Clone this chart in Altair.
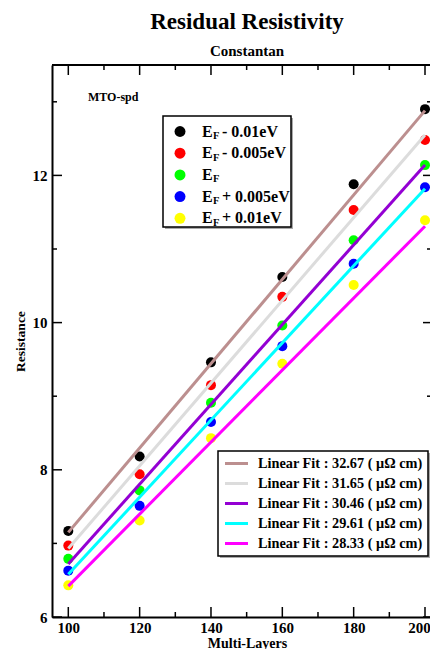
import altair as alt
import pandas as pd

# ---------------- data ----------------
layers_x = [100, 120, 140, 160, 180, 200]
series_names = ["EF - 0.01eV", "EF - 0.005eV", "EF", "EF + 0.005eV", "EF + 0.01eV"]
res_m010 = [7.17, 8.18, 9.46, 10.62, 11.88, 12.90]
res_m005 = [6.97, 7.94, 9.15, 10.35, 11.53, 12.48]
res_0 = [6.79, 7.72, 8.91, 9.96, 11.12, 12.14]
res_p005 = [6.63, 7.51, 8.65, 9.68, 10.80, 11.84]
res_p010 = [6.43, 7.31, 8.43, 9.44, 10.51, 11.39]
point_colors = ["#000000", "#ff0000", "#00ff00", "#0000ff", "#ffff00"]
legend_suffix = ["- 0.01eV", "- 0.005eV", "", "+ 0.005eV", "+ 0.01eV"]

fit_slopes = [32.67, 31.65, 30.46, 29.61, 28.33]
fit_x = [100, 200]
fit_start = [7.15, 6.93, 6.72, 6.58, 6.42]
fit_end = [12.88, 12.55, 12.14, 11.82, 11.31]
line_colors = ["#bc8f8f", "#dcdcdc", "#9400d3", "#00ffff", "#ff00ff"]

x_major = [100, 120, 140, 160, 180, 200]
x_minor = [110, 130, 150, 170, 190]
y_major = [6, 8, 10, 12]
y_minor = [7, 9, 11, 13]

# ---------------- layout ----------------
W, H = 378, 552          # visible plot area (frame continues past the page edge)
XMIN = 95.43
XMAX = XMIN + W * (100 / 356.7)
YMIN, YMAX = 6.0, 13.5
FONT = "Liberation Serif"


def dx(px):
    return XMIN + px * (XMAX - XMIN) / W


def dy(py):
    return YMAX - py * (YMAX - YMIN) / H


xscale = alt.Scale(domain=[XMIN, XMAX], nice=False, zero=False)
yscale = alt.Scale(domain=[YMIN, YMAX], nice=False, zero=False)
xaxis = alt.Axis(values=x_major, title="Multi-Layers", grid=False, ticks=False,
                 domain=True, domainColor="black", domainWidth=2,
                 labelFont=FONT, labelFontSize=15, labelFontWeight="bold", labelColor="black",
                 labelPadding=3, labelFlush=False,
                 labelOffset={"condition": {"test": "datum.value == 200", "value": -6}, "value": 0},
                 titleFont=FONT, titleFontSize=14, titleFontWeight="bold", titleColor="black",
                 titleX=195, titleAlign="center", titleY=33, titleBaseline="bottom")
yaxis = alt.Axis(values=y_major, title="Resistance", grid=False, ticks=False,
                 domain=True, domainColor="black", domainWidth=2,
                 labelFont=FONT, labelFontSize=15, labelFontWeight="bold", labelColor="black",
                 labelPadding=5, labelFlush=False,
                 titleFont=FONT, titleFontSize=13.5, titleFontWeight="bold", titleColor="black",
                 titleX=-32, titleY=H / 2, titleAngle=270, titleBaseline="middle", titleAlign="center")


def X(f="x"):
    return alt.X(f"{f}:Q", scale=xscale, axis=xaxis)


def Y(f="y"):
    return alt.Y(f"{f}:Q", scale=yscale, axis=yaxis)


# ---------------- tables ----------------
all_res = [res_m010, res_m005, res_0, res_p005, res_p010]
pts_df = pd.DataFrame([
    {"x": xv, "y": yv, "s": s, "col": c}
    for s, c, vals in zip(series_names, point_colors, all_res)
    for xv, yv in zip(layers_x, vals)
])

fit_labels = [f"Linear Fit : {v:.2f} ( \u03bc\u03a9 cm)" for v in fit_slopes]
fit_df = pd.DataFrame([
    {"x": xv, "y": yv, "fit": lab, "col": c}
    for lab, c, a, b in zip(fit_labels, line_colors, fit_start, fit_end)
    for xv, yv in zip(fit_x, [a, b])
])

# legend 1 (points) layout
L1_ROW0, L1_STEP = 66.5, 21.7
leg1 = pd.DataFrame({"col": point_colors, "rest": legend_suffix})
leg1["y"] = [dy(L1_ROW0 + L1_STEP * i) for i in range(len(leg1))]
leg1["ysub"] = [dy(L1_ROW0 + L1_STEP * i + 4.5) for i in range(len(leg1))]
leg1["xs"] = dx(128)
leg1["xe"] = dx(150)
leg1["xf"] = dx(161)
leg1["xr"] = dx(170)
leg1["E"] = "E"
leg1["F"] = "F"

# legend 2 (lines) layout
L2_ROW0, L2_STEP = 398.5, 20.0
leg2 = pd.DataFrame({"col": line_colors, "lab": fit_labels})
leg2["y"] = [dy(L2_ROW0 + L2_STEP * i) for i in range(len(leg2))]
leg2["x"] = dx(173)
leg2["x2"] = dx(196)
leg2["xt"] = dx(206)

one = pd.DataFrame({"a": [0]})

# ---------------- layers ----------------
points = alt.Chart(pts_df).mark_circle(size=100, opacity=1).encode(
    x=X(), y=Y(), color=alt.Color("col:N", scale=None))

lines = alt.Chart(fit_df).mark_line(strokeWidth=3).encode(
    x=X(), y=Y(), color=alt.Color("col:N", scale=None), detail="fit:N")


def xticks(vals, length, top):
    d = pd.DataFrame({"x": vals})
    if top:
        return alt.Chart(d).mark_rule(color="black", strokeWidth=1.5).encode(
            x=X(), y=alt.value(0), y2=alt.value(length))
    return alt.Chart(d).mark_rule(color="black", strokeWidth=1.5).encode(
        x=X(), y=alt.value(H), y2=alt.value(H - length))


def yticks(vals, length, right):
    d = pd.DataFrame({"y": vals})
    if right:
        return alt.Chart(d).mark_rule(color="black", strokeWidth=1.5).encode(
            y=Y(), x=alt.value(W), x2=alt.value(W - length))
    return alt.Chart(d).mark_rule(color="black", strokeWidth=1.5).encode(
        y=Y(), x=alt.value(0), x2=alt.value(length))


tick_layers = [
    xticks(x_major, 10, False), xticks(x_minor, 5, False),
    xticks(x_major, 10, True), xticks(x_minor, 5, True),
    yticks(y_major, 10, False), yticks(y_minor, 5, False),
    yticks(y_major, 7, True), yticks(y_minor, 3, True),
]

top_line = alt.Chart(one).mark_rule(color="black", strokeWidth=2).encode(
    x=alt.value(0), x2=alt.value(W), y=alt.value(0))

mto = alt.Chart(one).mark_text(font=FONT, fontSize=12, fontWeight="bold", align="left",
                               baseline="middle", color="black").encode(
    x=alt.value(36), y=alt.value(32), text=alt.value("MTO-spd"))

# legend 1
box1_shadow = alt.Chart(one).mark_rect(fill="#aaaaaa").encode(
    x=alt.value(113), x2=alt.value(241), y=alt.value(53), y2=alt.value(164))
box1 = alt.Chart(one).mark_rect(fill="white", stroke="black", strokeWidth=1.5).encode(
    x=alt.value(111), x2=alt.value(239), y=alt.value(51), y2=alt.value(162))
l1_sym = alt.Chart(leg1).mark_circle(size=120, opacity=1).encode(
    x=alt.X("xs:Q", scale=xscale, axis=xaxis), y=alt.Y("y:Q", scale=yscale, axis=yaxis),
    color=alt.Color("col:N", scale=None))
l1_E = alt.Chart(leg1).mark_text(font=FONT, fontSize=16, fontWeight="bold", align="left",
                                 baseline="middle", color="black").encode(
    x=alt.X("xe:Q", scale=xscale, axis=xaxis), y=alt.Y("y:Q", scale=yscale, axis=yaxis), text="E:N")
l1_F = alt.Chart(leg1).mark_text(font=FONT, fontSize=10.5, fontWeight="bold", align="left",
                                 baseline="middle", color="black").encode(
    x=alt.X("xf:Q", scale=xscale, axis=xaxis), y=alt.Y("ysub:Q", scale=yscale, axis=yaxis), text="F:N")
l1_R = alt.Chart(leg1).mark_text(font=FONT, fontSize=16, fontWeight="bold", align="left",
                                 baseline="middle", color="black").encode(
    x=alt.X("xr:Q", scale=xscale, axis=xaxis), y=alt.Y("y:Q", scale=yscale, axis=yaxis), text="rest:N")

# legend 2
box2_shadow = alt.Chart(one).mark_rect(fill="#aaaaaa").encode(
    x=alt.value(168), x2=alt.value(378), y=alt.value(388), y2=alt.value(493))
box2 = alt.Chart(one).mark_rect(fill="white", stroke="black", strokeWidth=1.5).encode(
    x=alt.value(166), x2=alt.value(376), y=alt.value(386), y2=alt.value(491))
l2_sym = alt.Chart(leg2).mark_rule(strokeWidth=3).encode(
    x=alt.X("x:Q", scale=xscale, axis=xaxis), x2="x2:Q",
    y=alt.Y("y:Q", scale=yscale, axis=yaxis), color=alt.Color("col:N", scale=None))
l2_txt = alt.Chart(leg2).mark_text(font=FONT, fontSize=14.3, fontWeight="bold", align="left",
                                   baseline="middle", color="black").encode(
    x=alt.X("xt:Q", scale=xscale, axis=xaxis), y=alt.Y("y:Q", scale=yscale, axis=yaxis), text="lab:N")

chart = alt.layer(
    points, lines, *tick_layers, top_line, mto,
    box1_shadow, box1, l1_sym, l1_E, l1_F, l1_R,
    box2_shadow, box2, l2_sym, l2_txt,
).properties(
    width=W, height=H,
    title=alt.TitleParams("Residual Resistivity", subtitle="Constantan",
                          font=FONT, fontSize=23, fontWeight="bold", color="black",
                          subtitleFont=FONT, subtitleFontSize=15, subtitleFontWeight="bold",
                          subtitleColor="black", subtitlePadding=10, offset=5, anchor="middle", dx=6),
    autosize=alt.AutoSizeParams(type="none"),
    padding={"left": 44, "top": 57, "right": 0, "bottom": 32},
).configure_view(stroke=None).configure(background="white")

chart.save("out.html", embed_options={"renderer": "svg", "actions": False})
